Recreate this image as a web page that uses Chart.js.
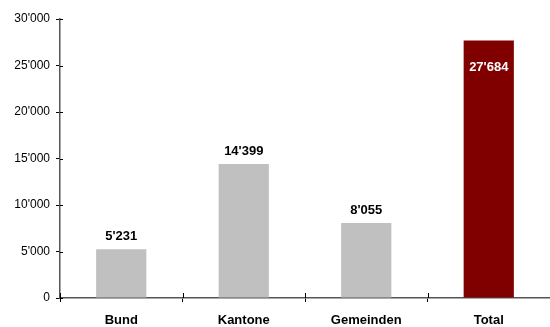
<!DOCTYPE html>
<html>
<head>
<meta charset="utf-8">
<script src="https://cdn.jsdelivr.net/npm/chart.js@4/dist/chart.umd.min.js"></script>
<style>
  html, body { margin: 0; padding: 0; background: #fff; }
  #wrap { width: 550px; height: 327px; position: relative; }
</style>
</head>
<body>
<div id="wrap"><canvas id="c"></canvas></div>
<script>
// Ausgaben nach Staatsebene
const categories = ['Bund', 'Kantone', 'Gemeinden', 'Total'];
const values = [5231, 14399, 8055, 27684];
const barColors = ['#c0c0c0', '#c0c0c0', '#c0c0c0', '#800000'];
const yTicks = [0, 5000, 10000, 15000, 20000, 25000, 30000];

const FONT = '"Liberation Sans", Arial, sans-serif';
const fmt = v => String(Math.round(v)).replace(/\B(?=(\d{3})+(?!\d))/g, "'");

// Value labels: above the grey bars, inside (white) on the total bar
const valueLabels = {
  id: 'valueLabels',
  afterDatasetsDraw(chart) {
    const ctx = chart.ctx;
    const meta = chart.getDatasetMeta(0);
    ctx.save();
    ctx.font = 'bold 13px ' + FONT;
    ctx.textAlign = 'center';
    ctx.textBaseline = 'middle';
    meta.data.forEach((bar, i) => {
      const inside = i === values.length - 1;
      ctx.fillStyle = inside ? '#ffffff' : '#000000';
      const y = inside ? bar.y + 27 : bar.y - 13;
      ctx.fillText(fmt(values[i]), bar.x, y);
    });
    ctx.restore();
  }
};

// Tick marks cross the axis lines: draw the short inner part of each tick
const crossTicks = {
  id: 'crossTicks',
  afterDraw(chart) {
    const ctx = chart.ctx;
    const { y } = chart.scales;
    const area = chart.chartArea;
    ctx.save();
    ctx.strokeStyle = '#000';
    ctx.lineWidth = 1;
    ctx.beginPath();
    y.ticks.forEach(t => {
      const py = Math.round(y.getPixelForValue(t.value)) + 0.5;
      ctx.moveTo(area.left, py);
      ctx.lineTo(area.left + 3, py);
    });
    for (let i = 0; i <= categories.length; i++) {
      const w = (area.right - area.left) / categories.length;
      const px = Math.round(area.left + i * w) + 0.5;
      ctx.moveTo(px, area.bottom);
      ctx.lineTo(px, area.bottom - 5);
    }
    ctx.stroke();
    ctx.restore();
  }
};

new Chart(document.getElementById('c'), {
  type: 'bar',
  data: {
    labels: categories,
    datasets: [{
      data: values,
      backgroundColor: barColors,
      borderWidth: 0,
      categoryPercentage: 1,
      barPercentage: 0.41
    }]
  },
  options: {
    responsive: true,
    maintainAspectRatio: false,
    animation: false,
    layout: { padding: { top: 19, right: 0, left: 0, bottom: 0 } },
    plugins: { legend: { display: false }, tooltip: { enabled: false } },
    scales: {
      x: {
        offset: true,
        grid: { drawOnChartArea: false, drawTicks: true, tickLength: 4, color: '#000', offset: true },
        border: { color: '#555', width: 1.5 },
        ticks: {
          color: '#000',
          padding: 11,
          font: { family: FONT, size: 13, weight: 'bold' }
        },
        afterFit(s) { s.height = 29; }
      },
      y: {
        min: 0,
        max: 30000,
        afterBuildTicks(s) { s.ticks = yTicks.map(v => ({ value: v })); },
        grid: { drawOnChartArea: false, drawTicks: true, tickLength: 4, color: '#000' },
        border: { color: '#555', width: 1.5 },
        ticks: {
          color: '#000',
          padding: 6,
          font: { family: FONT, size: 12 },
          callback: v => fmt(v)
        },
        afterFit(s) { s.width = 60; }
      }
    }
  },
  plugins: [valueLabels, crossTicks]
});
</script>
</body>
</html>
